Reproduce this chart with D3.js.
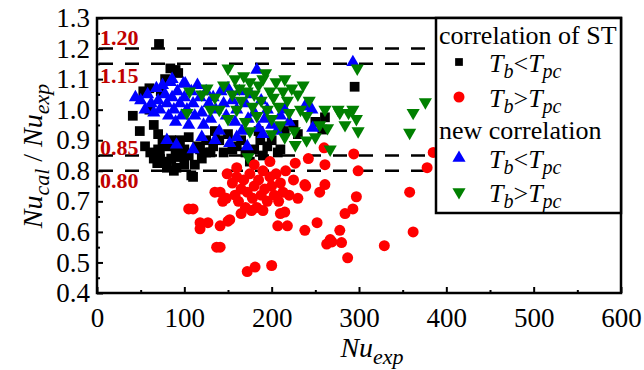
<!DOCTYPE html>
<html>
<head>
<meta charset="utf-8">
<script src="https://cdn.jsdelivr.net/npm/d3@7"></script>
<style>
  body { margin: 0; background: #fff; }
  text { font-family: "Liberation Serif", "Times New Roman", serif; }
</style>
</head>
<body>
<div id="chart"></div>
<script>
// ---------------- data (Nu_exp, Nu_cal/Nu_exp) ----------------
const stBelow = [
  [71,1.215],[84,1.135],[93,1.12],[78,1.10],[53,1.06],[60,1.07],[41,0.98],[49,0.93],
  [61,0.86],[72,0.86],[69,0.825],[80,0.81],[91,0.81],[110,0.78],[95,0.845],[118,0.87],
  [133,0.88],[80,0.825],[108,0.785],[100,0.87],[105,0.91],[115,0.88],[125,0.90],[130,0.86],
  [140,0.90],[135,0.93],[150,0.92],[160,0.88],[170,0.86],[180,0.87],[190,0.85],[200,0.90],
  [210,0.87],[215,0.93],[225,0.95],[175,0.83],[155,0.87],[187,0.90],[207,0.86],[210,0.94],
  [185,0.93],[261,0.975],[258,0.935],[295,1.075],[60,1.00],[65,0.95],[70,0.92],[75,0.90],
  [80,0.88],[85,0.90],[90,0.87],[95,0.90],[70,0.87],[55,0.88],[65,0.84],[75,0.83],
  [85,0.84],[88,0.80],[100,0.82],[105,0.85],[112,0.82],[120,0.84],[73,1.06],[90,1.13],
  [125,0.86],[145,0.86],[165,0.90],[195,0.88],[230,0.92],[250,0.96]
];
const stAbove = [
  [135,0.73],[105,0.675],[110,0.675],[118,0.63],[127,0.63],[118,0.61],[137,0.55],[141,0.55],
  [141,0.62],[150,0.635],[152,0.64],[149,0.79],[198,0.83],[227,0.825],[242,0.84],[261,0.82],
  [238,0.755],[255,0.73],[261,0.755],[215,0.665],[210,0.66],[207,0.62],[218,0.62],[177,0.67],
  [252,0.63],[238,0.605],[263,0.56],[267,0.575],[172,0.47],[181,0.485],[200,0.49],[299,0.80],
  [378,0.81],[358,0.73],[297,0.715],[293,0.675],[284,0.66],[278,0.605],[269,0.567],[280,0.565],
  [362,0.60],[329,0.555],[287,0.515],[385,0.86],[294,0.855],[141,0.73],[144,0.70],
  [155,0.76],[158,0.72],[160,0.78],[162,0.70],[165,0.74],[168,0.77],[170,0.68],[172,0.73],
  [175,0.79],[178,0.71],[180,0.75],[183,0.68],[185,0.77],[188,0.72],[190,0.80],[192,0.74],
  [195,0.70],[198,0.78],[200,0.75],[203,0.72],[205,0.79],[208,0.70],[210,0.76],[213,0.73],
  [216,0.80],[220,0.72],[165,0.66],[190,0.67],[160,0.81],[180,0.82],[148,0.71],[230,0.71],
  [225,0.77],[239,0.75],[260,0.875]
];
const newBelow = [
  [44,1.04],[50,1.03],[55,1.00],[58,1.05],[62,1.02],[65,0.99],[68,1.07],[70,1.03],
  [72,1.00],[75,1.08],[78,1.05],[80,1.02],[82,0.98],[84,1.09],[86,1.04],[88,1.00],
  [90,0.96],[92,1.06],[95,1.02],[97,0.98],[99,1.085],[100,1.04],[103,1.00],[105,0.95],
  [108,1.06],[110,1.02],[112,0.98],[115,1.08],[118,1.04],[120,0.99],[122,0.95],[125,1.06],
  [128,1.02],[130,0.97],[133,1.04],[136,1.00],[140,0.93],[142,1.06],[145,1.02],[148,0.98],
  [150,1.07],[152,0.89],[155,1.03],[158,0.96],[160,1.00],[163,1.06],[166,0.93],[170,1.02],
  [173,0.97],[176,1.05],[180,0.99],[183,1.13],[185,0.94],[188,1.03],[192,0.97],[195,1.00],
  [200,0.95],[206,0.93],[210,0.98],[215,1.00],[220,0.96],[238,1.01],[246,1.00],[247,0.94],
  [293,1.155],[80,0.90],[91,0.885],[110,0.87],[120,0.91],[135,0.90],[160,0.91],[172,0.88],
  [190,0.92],[86,1.10],[101,1.085]
];
const newAbove = [
  [103,0.99],[106,1.06],[126,1.07],[135,1.04],[140,1.00],[145,1.08],[150,1.135],[155,1.05],
  [158,1.10],[160,1.00],[163,1.07],[165,1.03],[168,1.11],[170,0.96],[172,1.06],[175,1.09],
  [178,1.01],[180,1.05],[183,0.98],[185,1.08],[188,1.03],[190,1.10],[193,1.12],[195,1.00],
  [198,1.06],[200,0.97],[202,1.04],[205,1.09],[208,1.01],[210,0.95],[213,1.06],[215,1.10],
  [218,1.03],[220,0.99],[223,1.07],[226,0.93],[227,0.885],[230,1.05],[233,1.00],[236,1.08],
  [240,0.98],[243,1.03],[250,0.91],[261,1.00],[264,0.94],[267,0.87],[276,1.00],[278,0.99],
  [284,0.95],[288,0.99],[293,1.00],[297,0.97],[299,0.93],[298,1.135],[358,0.925],[362,0.99],
  [376,1.025],[173,0.845],[240,0.90],[255,0.95],[120,1.05],[130,1.00],[150,0.97],[175,0.93],
  [200,0.92],[215,0.91]
];
const refLines = [1.20, 1.15, 0.85, 0.80];
const xTicks = [0, 100, 200, 300, 400, 500, 600];
const yTicks = [0.4, 0.5, 0.6, 0.7, 0.8, 0.9, 1.0, 1.1, 1.2, 1.3];

// ---------------- layout ----------------
const W = 644, H = 370;
const pL = 97, pT = 18, pR = 621, pB = 293;

const svg = d3.select("#chart").append("svg")
  .attr("width", W).attr("height", H);
svg.append("rect").attr("width", W).attr("height", H).attr("fill", "#fff");

const x = d3.scaleLinear().domain([0, 600]).range([pL, pR]);
const y = d3.scaleLinear().domain([0.4, 1.3]).range([pB, pT]);

// ---------------- reference dashed lines ----------------
svg.append("g").selectAll("line")
  .data(refLines)
  .enter().append("line")
  .attr("x1", x(0) + 2).attr("x2", x(600))
  .attr("y1", d => y(d)).attr("y2", d => y(d))
  .attr("stroke", "#000").attr("stroke-width", 2.5)
  .attr("stroke-dasharray", "14,12");

// labels of the dashed lines (above for 1.20/0.85, below for 1.15/0.80)
const lblOff = { "1.20": -4, "1.15": 19, "0.85": -1, "0.80": 17 };
svg.append("g").selectAll("text")
  .data(refLines)
  .enter().append("text")
  .attr("x", x(0) + 3)
  .attr("y", d => y(d) + lblOff[d.toFixed(2)])
  .attr("fill", "#c00000")
  .attr("font-weight", "bold")
  .attr("font-size", 22)
  .text(d => d.toFixed(2));

// ---------------- points ----------------
const symSquare = d3.symbol().type(d3.symbolSquare).size(95);
const symCircle = d3.symbol().type(d3.symbolCircle).size(95);
const symTri = d3.symbol().type(d3.symbolTriangle).size(75);

function drawSet(data, sym, color, rot) {
  svg.append("g").selectAll("path")
    .data(data)
    .enter().append("path")
    .attr("d", sym)
    .attr("fill", color)
    .attr("transform", d => "translate(" + x(d[0]) + "," + y(d[1]) + ")" + (rot ? " rotate(180)" : ""));
}
drawSet(stBelow, symSquare, "#000", false);
drawSet(stAbove, symCircle, "#ff0000", false);
drawSet(newBelow, symTri, "#0000ff", false);
drawSet(newAbove, symTri, "#008000", true);

// ---------------- axes ----------------
const xAxis = d3.axisBottom(x).tickValues(xTicks).tickSize(-6).tickSizeOuter(0).tickPadding(15)
  .tickFormat(d3.format("d"));
const xMinor = d3.axisBottom(x).tickValues([50, 150, 250, 350, 450, 550]).tickSize(-3).tickFormat("");
const yAxis = d3.axisLeft(y).tickValues(yTicks).tickSize(-6).tickSizeOuter(0).tickPadding(7)
  .tickFormat(d3.format(".1f"));
const yMinor = d3.axisLeft(y).tickValues([0.45, 0.55, 0.65, 0.75, 0.85, 0.95, 1.05, 1.15, 1.25]).tickSize(-3).tickFormat("");

function styleAxis(g) {
  g.select(".domain").remove();
  g.selectAll("line").attr("stroke", "#000").attr("stroke-width", 2);
  g.selectAll("text").attr("font-size", 27).attr("fill", "#000")
    .style("font-family", '"Liberation Serif", "Times New Roman", serif');
}
svg.append("g").attr("transform", "translate(0," + pB + ")").call(xAxis).call(styleAxis);
svg.append("g").attr("transform", "translate(0," + pB + ")").call(xMinor).call(styleAxis);
svg.append("g").attr("transform", "translate(" + pL + ",0)").call(yAxis).call(styleAxis);
svg.append("g").attr("transform", "translate(" + pL + ",0)").call(yMinor).call(styleAxis);

// frame
svg.append("rect")
  .attr("x", pL).attr("y", pT)
  .attr("width", pR - pL).attr("height", pB - pT)
  .attr("fill", "none").attr("stroke", "#000").attr("stroke-width", 2.5);

// ---------------- axis titles ----------------
const xt = svg.append("text").attr("x", 372).attr("y", 357)
  .attr("text-anchor", "middle").attr("font-size", 28).attr("font-style", "italic");
xt.append("tspan").text("Nu");
xt.append("tspan").attr("font-size", 22).attr("dy", 7).text("exp");

const yt = svg.append("text")
  .attr("transform", "translate(42,156) rotate(-90)")
  .attr("text-anchor", "middle").attr("font-size", 28).attr("font-style", "italic");
yt.append("tspan").text("Nu");
yt.append("tspan").attr("font-size", 22).attr("dy", 7).text("cal");
yt.append("tspan").attr("dy", -7).attr("font-style", "normal").text(" / ");
yt.append("tspan").text("Nu");
yt.append("tspan").attr("font-size", 22).attr("dy", 7).text("exp");

// ---------------- legend ----------------
const lg = svg.append("g");
lg.append("rect").attr("x", 436).attr("y", pT).attr("width", pR - 436).attr("height", 195)
  .attr("fill", "#fff").attr("stroke", "#000").attr("stroke-width", 2.5);

const legendRows = [
  { head: "correlation of ST", y: 44 },
  { sym: symSquare, color: "#000", rot: false, y: 62, op: "<", size: 60 },
  { sym: symCircle, color: "#ff0000", rot: false, y: 97, op: ">" },
  { head: "new correlation", y: 139 },
  { sym: symTri, color: "#0000ff", rot: false, y: 158, op: "<" },
  { sym: symTri, color: "#008000", rot: true, y: 192, op: ">" }
];
legendRows.forEach(r => {
  if (r.head) {
    lg.append("text").attr("x", 439).attr("y", r.y).attr("font-size", 26).text(r.head);
    return;
  }
  lg.append("path")
    .attr("d", r.size ? d3.symbol().type(d3.symbolSquare).size(r.size)() : r.sym())
    .attr("fill", r.color)
    .attr("transform", "translate(459," + r.y + ")" + (r.rot ? " rotate(180)" : ""));
  const t = lg.append("text").attr("x", 489).attr("y", r.y + 10).attr("font-size", 26);
  t.append("tspan").attr("font-style", "italic").text("T");
  t.append("tspan").attr("font-style", "italic").attr("font-size", 20).attr("dy", 6).text("b");
  t.append("tspan").attr("dy", -6).text(r.op);
  t.append("tspan").attr("font-style", "italic").text("T");
  t.append("tspan").attr("font-style", "italic").attr("font-size", 20).attr("dy", 6).text("pc");
});
</script>
</body>
</html>
